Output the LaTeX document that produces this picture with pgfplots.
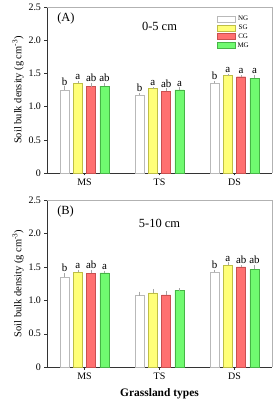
\documentclass[border=0pt]{standalone}
\usepackage{fontspec}
\setmainfont{Liberation Serif}
\usepackage{pgfplots}
\usepackage{pgfplotstable}
\pgfplotsset{compat=1.18}
\definecolor{cSGf}{RGB}{255,255,120}
\definecolor{cSGd}{RGB}{190,190,70}
\definecolor{cCGf}{RGB}{255,112,112}
\definecolor{cCGd}{RGB}{200,80,80}
\definecolor{cMGf}{RGB}{112,250,112}
\definecolor{cMGd}{RGB}{70,180,70}
\pgfplotstableread{
x y e l
0 1.25 0.04 b
1 1.17 0.02 b
2 1.35 0.02 b
}\tNGa
\pgfplotstableread{
x y e l
0 1.35 0.02 a
1 1.27 0.01 a
2 1.47 0.01 a
}\tSGa
\pgfplotstableread{
x y e l
0 1.30 0.04 ab
1 1.23 0.03 ab
2 1.45 0.01 a
}\tCGa
\pgfplotstableread{
x y e l
0 1.31 0.03 ab
1 1.25 0.02 a
2 1.43 0.03 a
}\tMGa
\pgfplotstableread{
x y e l
0 1.35 0.04 b
1 1.07 0.04 {}
2 1.42 0.02 b
}\tNGb
\pgfplotstableread{
x y e l
0 1.42 0.02 a
1 1.11 0.04 {}
2 1.52 0.03 a
}\tSGb
\pgfplotstableread{
x y e l
0 1.40 0.04 ab
1 1.08 0.04 {}
2 1.50 0.01 ab
}\tCGb
\pgfplotstableread{
x y e l
0 1.41 0.01 a
1 1.15 0.01 {}
2 1.46 0.05 ab
}\tMGb
\pgfplotsset{
  bdstyle/.style={
    width=225bp, scale only axis,
    xmin=-0.5, xmax=2.5, ymin=0, ymax=2.5,
    axis lines=left, axis line style={-, black!80},
    tick align=outside, major tick length=2.5bp,
    tick style={black!80},
    xtick={0,1,2}, xticklabels={MS,TS,DS},
    ytick={0,0.5,1,1.5,2,2.5},
    yticklabels={0,0.5,1.0,1.5,2.0,2.5},
    tick label style={font=\fontsize{10}{12}\selectfont},
    /pgf/number format/assume math mode=true,
    ylabel={Soil bulk density (g cm\textsuperscript{-3})},
    ylabel style={font=\fontsize{10.5}{12}\selectfont, yshift=-2bp},
    clip=false,
  },
  bNG/.style={ybar, bar width=0.12, bar shift=-0.266, fill=white, draw=gray!55},
  bSG/.style={ybar, bar width=0.12, bar shift=-0.089, fill=cSGf, draw=cSGd},
  bCG/.style={ybar, bar width=0.12, bar shift=0.089, fill=cCGf, draw=cCGd},
  bMG/.style={ybar, bar width=0.12, bar shift=0.266, fill=cMGf, draw=cMGd},
  lab/.style={forget plot, draw=none, mark=none, nodes near coords,
    point meta=explicit symbolic,
    every node near coord/.append style={font=\fontsize{11}{12}\selectfont, anchor=south, inner sep=1bp, yshift=1bp, text=black}},
  eb/.style={forget plot, draw=none, mark=none,
    error bars/y dir=plus, error bars/y explicit,
    error bars/error bar style={draw=gray!70, line width=0.4pt},
    error bars/error mark=-,
    error bars/error mark options={mark size=1.2bp, draw=gray!70}},
}
\newcommand{\labels}[2]{%
  \addplot[eb] table[x expr=\thisrow{x}+#2, y=y, y error=e]{#1};
  \addplot[lab] table[x expr=\thisrow{x}+#2, y expr=\thisrow{y}+\thisrow{e}, meta=l]{#1};}
\begin{document}
\begin{tikzpicture}
\useasboundingbox (-47bp,-39bp) rectangle (228bp,367bp);
% Top panel
\begin{axis}[bdstyle, at={(0bp,194bp)}, anchor=south west, height=166bp,
  legend style={at={(0.742,0.97)}, anchor=north west, draw=none, fill=none,
    font=\fontsize{7}{8}\selectfont, row sep=-1.2bp,
    /tikz/every even column/.append style={column sep=2bp}},
  legend image code/.code={\draw[#1] (0bp,-2.6bp) rectangle (18bp,3.4bp);},
]
\addplot[bNG] table[x=x,y=y]{\tNGa};
\addplot[bSG] table[x=x,y=y]{\tSGa};
\addplot[bCG] table[x=x,y=y]{\tCGa};
\addplot[bMG] table[x=x,y=y]{\tMGa};
\legend{NG,SG,CG,MG}
\labels{\tNGa}{-0.266}
\labels{\tSGa}{-0.089}
\labels{\tCGa}{0.089}
\labels{\tMGa}{0.266}
\draw[gray!60] (rel axis cs:0,1) -- (rel axis cs:1,1) -- (rel axis cs:1,0);
\node[anchor=west, font=\fontsize{12.5}{14}\selectfont] at (rel axis cs:0.03,0.93) {(A)};
\node[font=\fontsize{12.5}{14}\selectfont] at (rel axis cs:0.5,0.88) {0-5 cm};
\end{axis}
% Bottom panel
\begin{axis}[bdstyle, at={(0bp,0bp)}, anchor=south west, height=167bp,
  xlabel={Grassland types},
  xlabel style={font=\bfseries\fontsize{11.5}{13}\selectfont, yshift=-2bp},
]
\addplot[bNG] table[x=x,y=y]{\tNGb};
\addplot[bSG] table[x=x,y=y]{\tSGb};
\addplot[bCG] table[x=x,y=y]{\tCGb};
\addplot[bMG] table[x=x,y=y]{\tMGb};
\labels{\tNGb}{-0.266}
\labels{\tSGb}{-0.089}
\labels{\tCGb}{0.089}
\labels{\tMGb}{0.266}
\draw[gray!60] (rel axis cs:0,1) -- (rel axis cs:1,1) -- (rel axis cs:1,0);
\node[anchor=west, font=\fontsize{12.5}{14}\selectfont] at (rel axis cs:0.03,0.93) {(B)};
\node[font=\fontsize{12.5}{14}\selectfont] at (rel axis cs:0.5,0.86) {5-10 cm};
\end{axis}
\end{tikzpicture}
\end{document}
